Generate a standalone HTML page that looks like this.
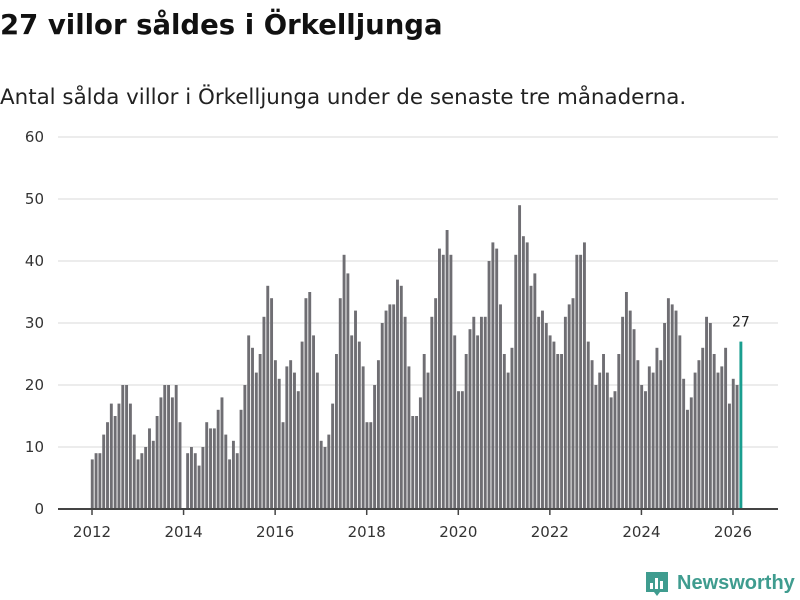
<!DOCTYPE html>
<html><head><meta charset="utf-8">
<style>
html,body{margin:0;padding:0;background:#fff;}
body{width:800px;height:600px;overflow:hidden;font-family:"Liberation Sans","DejaVu Sans",sans-serif;position:relative;}
h1{position:absolute;left:0;top:9px;margin:0;font-size:27.5px;font-weight:bold;color:#111;font-family:"DejaVu Sans","Liberation Sans",sans-serif;}
.sub{position:absolute;left:0;top:85px;margin:0;font-size:21.4px;color:#222;font-family:"DejaVu Sans","Liberation Sans",sans-serif;}
svg{position:absolute;left:0;top:0;}
</style></head><body>
<h1>27 villor såldes i Örkelljunga</h1>
<p class="sub">Antal sålda villor i Örkelljunga under de senaste tre månaderna.</p>
<svg id="chart" width="800" height="600"></svg>
<script>
const startYear = 2012;
const values = [
8,9,9,12,14,17,15,17,20,20,17,12,
8,9,10,13,11,15,18,20,20,18,20,14,
0,9,10,9,7,10,14,13,13,16,18,12,
8,11,9,16,20,28,26,22,25,31,36,34,
24,21,14,23,24,22,19,27,34,35,28,22,
11,10,12,17,25,34,41,38,28,32,27,23,
14,14,20,24,30,32,33,33,37,36,31,23,
15,15,18,25,22,31,34,42,41,45,41,28,
19,19,25,29,31,28,31,31,40,43,42,33,
25,22,26,41,49,44,43,36,38,31,32,30,
28,27,25,25,31,33,34,41,41,43,27,24,
20,22,25,22,18,19,25,31,35,32,29,24,
20,19,23,22,26,24,30,34,33,32,28,21,
16,18,22,24,26,31,30,25,22,23,26,17,
21,20,27
];
const yTicks = [0,10,20,30,40,50,60];
const xTickYears = [2012,2014,2016,2018,2020,2022,2024,2026];

const NS = "http://www.w3.org/2000/svg";
const svg = document.getElementById('chart');
const y = v => 509 - v * 6.2;
const x = m => 92 + m * (641 / 168);
function mk(tag, attrs){const e=document.createElementNS(NS,tag);for(const k in attrs)e.setAttribute(k,attrs[k]);svg.appendChild(e);return e;}

yTicks.forEach(t=>{
  if(t>0){
    const g=mk('line',{x1:58,x2:778,y1:y(t),y2:y(t),stroke:'#e0e0e0','stroke-width':1.2});
    
    
  }
  const tx=mk('text',{x:44,y:y(t)+5,'text-anchor':'end','font-size':15,fill:'#333','font-family':'DejaVu Sans, Liberation Sans, sans-serif'});
  tx.textContent=t;
  
  
});

values.forEach((v,i)=>{
  if(v<=0)return;
  const last = i===values.length-1;
  const r=mk('rect',{x:x(i)-1.2,y:y(v),width:2.9,height:509-y(v),fill:last?'#1a9e8f':'#6f6e73'});
  
  
});
const li=values.length-1;
const lab=mk('text',{x:x(li)+0.3,y:y(values[li])-15,'text-anchor':'middle','font-size':14,fill:'#222','font-family':'DejaVu Sans, Liberation Sans, sans-serif'});
lab.textContent=values[li];



const ax=mk('line',{x1:58,x2:778,y1:509,y2:509,stroke:'#444','stroke-width':2});


xTickYears.forEach(yr=>{
  const px=x((yr-startYear)*12);
  const tk=mk('line',{x1:px,x2:px,y1:509,y2:515,stroke:'#444','stroke-width':1.5});
  
  
  const tx=mk('text',{x:px,y:537,'text-anchor':'middle','font-size':15,fill:'#333','font-family':'DejaVu Sans, Liberation Sans, sans-serif'});
  tx.textContent=yr;
  
  
});
</script>
<svg width="800" height="600" style="pointer-events:none">
  <path d="M646 572 h22 v20 h-8 l-3 4 l-3 -4 h-8 z" fill="#3f9c8f"/>
  <rect x="650" y="583" width="3" height="6" fill="#fff"/>
  <rect x="655" y="578" width="3" height="11" fill="#fff"/>
  <rect x="660" y="581" width="3" height="8" fill="#fff"/>
  <text x="677" y="589" font-size="20" font-weight="bold" fill="#3f9c8f" font-family="Liberation Sans, DejaVu Sans, sans-serif">Newsworthy</text>
</svg>
</body></html>
